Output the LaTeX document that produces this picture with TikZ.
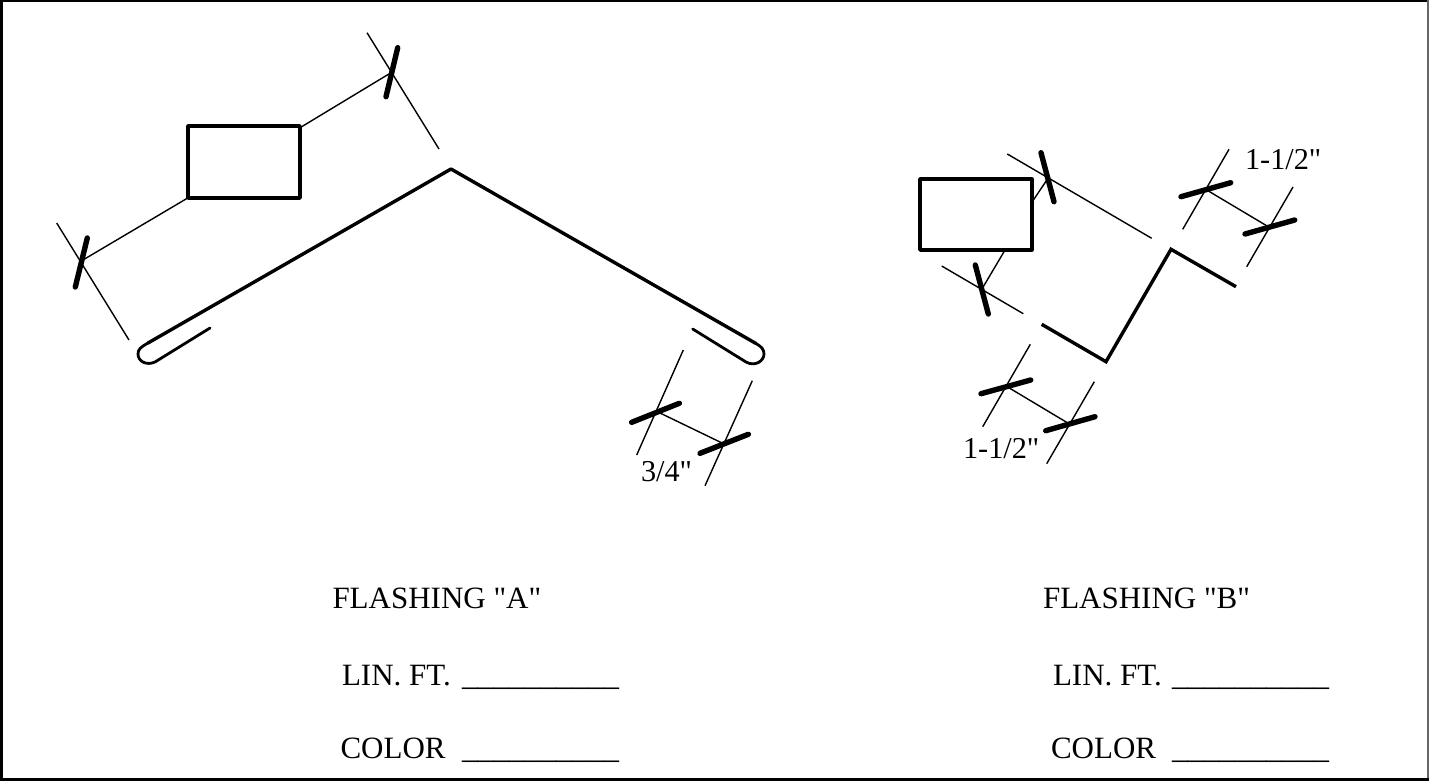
\documentclass[tikz,border=0pt]{standalone}
\usepackage{fontspec}
\newfontfamily\serf{Liberation Serif}
\tikzset{
  thinln/.style={line width=1.4pt,black},
  prof/.style={line width=3.4pt,black,line join=round,line cap=round},
  foldln/.style={line width=2.8pt,black,line join=round,line cap=round},
  tickln/.style={line width=5.4pt,black,line cap=round},
  box/.style={line width=3.6pt,black,line join=round},
  lbl/.style={anchor=base west,inner sep=0pt,outer sep=0pt,font=\serf\fontsize{31}{36}\selectfont},
  blank/.style={anchor=base west,inner sep=0pt,outer sep=0pt,font=\serf\fontsize{31.4}{36}\selectfont},
  dimlbl/.style={anchor=base west,inner sep=0pt,outer sep=0pt,font=\serf\fontsize{30.3}{34}\selectfont}
}
\begin{document}
\begin{tikzpicture}[x=1pt,y=-1pt]
\useasboundingbox (0,0) rectangle (1429,782);
\fill[white] (0,0) rectangle (1429,782);
\draw[line width=3.2pt,black] (1.6,0) -- (1.6,781);
\draw[line width=3.4pt,black] (0,779.3) -- (1429,779.3);
\draw[line width=1.6pt,black] (0,0.8) -- (1429,0.8);
\draw[line width=1.5pt,black!60] (1428.2,0) -- (1428.2,778);
% Flashing A
\draw[box] (188,126) rectangle (300,198);
\draw[prof] (451,169) -- (148,343);
\draw[foldln] (148,343) .. controls (141,347) and (138,349) .. (138,354) .. controls (138,361) and (146,366) .. (155,362) -- (210,328);
\draw[prof] (451,169) -- (756,343.5);
\draw[foldln] (756,343.5) .. controls (761,346.5) and (764,349) .. (764,354) .. controls (764,361) and (755,367) .. (746,362) -- (692.7,329);
\draw[thinln] (367,32.7) -- (439,149);
\draw[thinln] (301.7,126.7) -- (391.7,72.3);
\draw[tickln] (397.7,47.7) -- (386,96.7);
\draw[thinln] (56.7,223) -- (129,340);
\draw[thinln] (81.7,260.7) -- (187.7,198);
\draw[tickln] (87.3,238) -- (75.3,287);
\draw[thinln] (683.3,350) -- (636.7,455);
\draw[thinln] (752.3,380.7) -- (705,485.7);
\draw[thinln] (657.3,411.7) -- (722.7,443.3);
\draw[tickln] (631.7,422.3) -- (679.3,403.3);
\draw[tickln] (700,453.3) -- (748.3,434.3);
\node[dimlbl] (dimA) at (641,481.5) {3/4"};
% Flashing B
\draw[box] (920,179) rectangle (1031.7,250);
\draw[prof,line cap=butt,line join=miter] (1041.7,324.3) -- (1106,361.7) -- (1171,249.3) -- (1236,286.7);
\draw[thinln] (1007.3,154) -- (1151.7,238.3);
\draw[thinln] (1032.3,201.7) -- (1047.3,179.3);
\draw[tickln] (1041,152.7) -- (1054,201.7);
\draw[thinln] (941.7,266) -- (1023.3,313.7);
\draw[thinln] (1004,251.7) -- (982.7,287.7);
\draw[tickln] (975.3,265) -- (988.3,314);
\draw[thinln] (1229,149.3) -- (1182.7,229.3);
\draw[thinln] (1293,187) -- (1246.7,266.7);
\draw[thinln] (1206.7,190) -- (1268.3,226.7);
\draw[tickln] (1181,196.7) -- (1230.7,182.7);
\draw[tickln] (1245,234) -- (1294.7,220);
\draw[thinln] (1030.3,344.3) -- (982.7,426.7);
\draw[thinln] (1094.3,381.7) -- (1046.7,463.7);
\draw[thinln] (1006,386) -- (1068.3,423.3);
\draw[tickln] (981,393.7) -- (1030.7,380);
\draw[tickln] (1045.7,430.7) -- (1095,416.7);
\node[dimlbl] (dimBa) at (1245,169.5) {1-1/2"};
\node[dimlbl] (dimBb) at (963,458) {1-1/2"};
% Labels
\node[lbl] (ta) at (332.5,608) {FLASHING "A"};
\node[lbl] (la) at (342,685) {LIN. FT.};
\node[blank] (lau) at (462,685) {\_\_\_\_\_\_\_\_\_\_};
\node[lbl] (ca) at (340.5,758) {COLOR};
\node[blank] (cau) at (462,758) {\_\_\_\_\_\_\_\_\_\_};
\node[lbl] (tb) at (1043,608) {FLASHING "B"};
\node[lbl] (lb) at (1053,685) {LIN. FT.};
\node[blank] (lbu) at (1172,685) {\_\_\_\_\_\_\_\_\_\_};
\node[lbl] (cb) at (1051,758) {COLOR};
\node[blank] (cbu) at (1172,758) {\_\_\_\_\_\_\_\_\_\_};
\end{tikzpicture}
\end{document}
